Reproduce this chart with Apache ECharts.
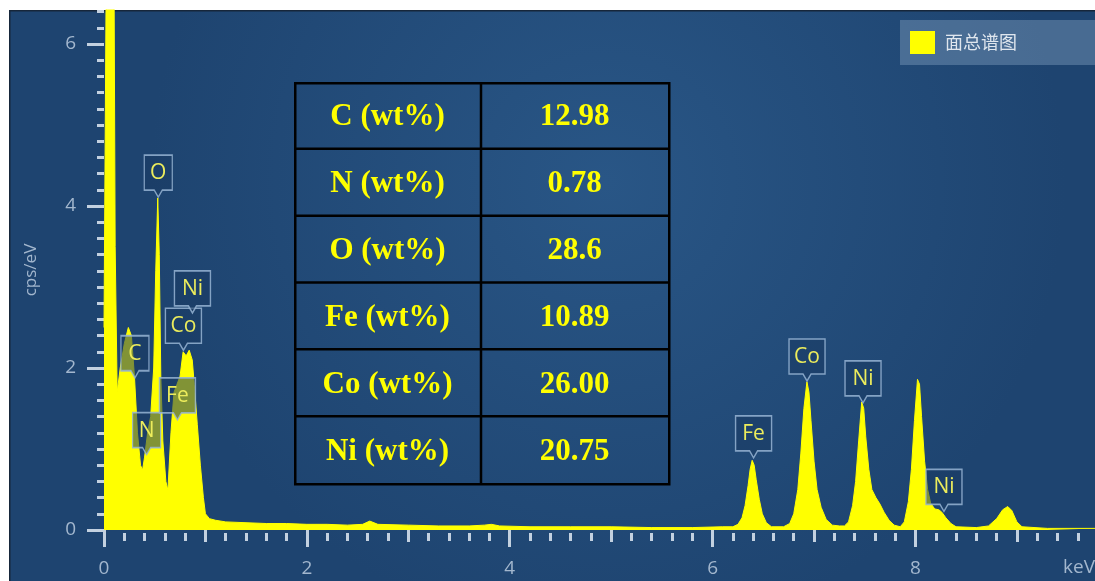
<!DOCTYPE html>
<html>
<head>
<meta charset="utf-8">
<title>面总谱图</title>
<script src="https://cdn.jsdelivr.net/npm/echarts@6/dist/echarts.min.js"></script>
<style>
    html, body { margin: 0; padding: 0; background: #fff; }
    #chart { width: 1095px; height: 581px; }
</style>
</head>
<body>
<div id="chart"></div>
<script>
// spectrum: energy (keV) and counts (cps/eV)
var energy = [0.00, 0.02, 0.05, 0.08, 0.10, 0.11, 0.13, 0.16, 0.20, 0.24, 0.27, 0.30, 0.33, 0.36, 0.38, 0.40,
    0.43, 0.46, 0.49, 0.51, 0.53, 0.545, 0.56, 0.58, 0.61, 0.63, 0.66, 0.69, 0.72, 0.75, 0.78, 0.81, 0.84,
    0.87, 0.89, 0.92, 0.95, 0.98, 1.00, 1.04, 1.10, 1.20, 1.40, 1.60, 1.80, 2.00, 2.20, 2.40, 2.55, 2.62,
    2.70, 3.00, 3.30, 3.60, 3.75, 3.82, 3.90, 4.20, 4.60, 5.00, 5.40, 5.80, 6.10, 6.20, 6.25, 6.29, 6.32,
    6.35, 6.37, 6.39, 6.41, 6.43, 6.46, 6.49, 6.53, 6.58, 6.70, 6.76, 6.80, 6.84, 6.87, 6.90, 6.93, 6.95,
    6.97, 7.00, 7.03, 7.07, 7.12, 7.18, 7.25, 7.30, 7.34, 7.38, 7.41, 7.44, 7.47, 7.49, 7.51, 7.54, 7.57,
    7.61, 7.65, 7.69, 7.74, 7.79, 7.85, 7.89, 7.93, 7.96, 7.99, 8.02, 8.04, 8.06, 8.09, 8.12, 8.15, 8.19,
    8.23, 8.26, 8.30, 8.35, 8.40, 8.60, 8.72, 8.80, 8.86, 8.91, 8.95, 9.00, 9.05, 9.30, 9.77];
var counts = [2.5, 6.5, 8.5, 9.0, 6.5, 3.5, 1.7, 2.0, 2.3, 2.5, 2.4, 1.9, 1.2, 0.8, 0.74, 0.9,
    1.2, 1.4, 2.0, 3.2, 4.1, 3.4, 1.9, 1.1, 0.6, 0.49, 1.2, 1.7, 1.8, 1.9, 2.2, 2.15, 2.22,
    2.1, 1.8, 1.3, 0.8, 0.4, 0.2, 0.14, 0.12, 0.10, 0.09, 0.08, 0.08, 0.07, 0.07, 0.06, 0.07, 0.11,
    0.07, 0.06, 0.05, 0.05, 0.06, 0.07, 0.05, 0.04, 0.04, 0.04, 0.03, 0.03, 0.04, 0.04, 0.07, 0.15, 0.30,
    0.55, 0.75, 0.86, 0.80, 0.62, 0.38, 0.20, 0.09, 0.04, 0.04, 0.08, 0.20, 0.50, 0.95, 1.50, 1.83, 1.70,
    1.35, 0.85, 0.50, 0.28, 0.13, 0.06, 0.05, 0.05, 0.10, 0.30, 0.60, 1.10, 1.58, 1.50, 1.15, 0.75, 0.50,
    0.40, 0.32, 0.22, 0.12, 0.06, 0.04, 0.10, 0.35, 0.75, 1.35, 1.86, 1.80, 1.40, 0.85, 0.50, 0.33, 0.26,
    0.25, 0.22, 0.15, 0.08, 0.04, 0.03, 0.05, 0.14, 0.25, 0.29, 0.24, 0.10, 0.04, 0.02, 0.02];

// peak labels, placed where the pointer tip sits
var peakNames = ['C', 'N', 'O', 'Fe', 'Co', 'Ni', 'Fe', 'Co', 'Ni', 'Ni'];
var peakKeV = [0.305, 0.42, 0.535, 0.724, 0.783, 0.872, 6.404, 6.931, 7.483, 8.281];
var peakCps = [1.88, 0.93, 4.11, 1.36, 2.22, 2.68, 0.89, 1.84, 1.57, 0.23];

// composition table
var tableElements = ['C', 'N', 'O', 'Fe', 'Co', 'Ni'];
var tableWt = ['12.98', '0.78', '28.6', '10.89', '26.00', '20.75'];

var xLabels = [0, 2, 4, 6, 8];
var xMidTicks = [1, 3, 5, 7, 9];
var yLabels = [0, 2, 4, 6];

var xMax = 9.77, yMax = 6.42;
var axisColor = '#a3b7ce';
var tickColor = '#c3d1e0';

var xMinor = [], yMinor = [];
for (var i = 0; i <= 48; i++) xMinor.push(+(i * 0.2).toFixed(1));
for (var j = 0; j <= 32; j++) yMinor.push(+(j * 0.2).toFixed(1));

var spectrum = energy.map(function (e, k) { return [e, counts[k]]; });

var labelData = peakNames.map(function (n, k) {
    var w = n.length > 1 ? 36 : 28;
    var m = w / 2;
    return {
        name: n,
        value: [peakKeV[k], peakCps[k]],
        symbol: 'path://M0,0H' + w + 'V35H' + (m + 4) + 'L' + m + ',42L' + (m - 4) + ',35H0Z',
        symbolSize: [w, 42]
    };
});

// table drawn on top of the plot
var table = [{
    type: 'rect', left: 294, top: 82, z: 10,
    shape: { width: 374, height: 401 },
    style: { fill: 'transparent', stroke: '#000', lineWidth: 2.5 }
}, {
    type: 'line', z: 10,
    shape: { x1: 481, y1: 82, x2: 481, y2: 483 },
    style: { stroke: '#000', lineWidth: 2.5 }
}];
var rowH = 401 / tableElements.length;
tableElements.forEach(function (el, r) {
    var cy = 82 + rowH * (r + 0.5);
    if (r > 0) {
        table.push({
            type: 'line', z: 10,
            shape: { x1: 294, y1: 82 + rowH * r, x2: 668, y2: 82 + rowH * r },
            style: { stroke: '#000', lineWidth: 2.5 }
        });
    }
    [[387.5, el + ' (wt%)'], [574.5, tableWt[r]]].forEach(function (c) {
        table.push({
            type: 'text', x: c[0], y: cy + 2, z: 11,
            style: {
                text: c[1], fill: '#ffff00', align: 'center', verticalAlign: 'middle',
                font: 'bold 31px "Liberation Serif", "Times New Roman", serif'
            }
        });
    });
});

function tickAxis(values, len, extra) {
    var a = {
        type: 'value', min: 0,
        axisLine: { show: false },
        splitLine: { show: false },
        axisTick: { show: true, length: len, customValues: values, lineStyle: { color: tickColor, width: 3 } },
        axisLabel: { show: false }
    };
    for (var key in extra) a[key] = extra[key];
    return a;
}

var chart = echarts.init(document.getElementById('chart'));

var option = {
    animation: false,
    backgroundColor: '#ffffff',
    graphic: [{
        type: 'rect', left: 9, top: 10, z: -10,
        shape: { width: 1086, height: 571 },
        style: {
            fill: new echarts.graphic.RadialGradient(0.55, 0.3, 0.8, [
                { offset: 0, color: '#295686' },
                { offset: 1, color: '#1e4470' }
            ]),
            stroke: '#16263a', lineWidth: 1.5
        }
    }, {
        type: 'text', left: 1063, top: 558, z: 5,
        style: { text: 'keV', fill: axisColor, font: '19px "Open Sans", sans-serif' }
    }].concat(table),
    legend: {
        data: ['面总谱图'],
        left: 900, top: 20,
        icon: 'rect', itemWidth: 25, itemHeight: 23,
        padding: [11, 80, 11, 10],
        backgroundColor: 'rgba(125,155,188,0.45)',
        textStyle: {
            color: '#dfe6ee', fontSize: 18, padding: [0, 0, 0, 5],
            fontFamily: '"Noto Sans CJK SC", sans-serif'
        }
    },
    grid: { left: 104, right: 0, top: 10, bottom: 51 },
    xAxis: [
        tickAxis(xLabels, 17, {
            max: xMax, position: 'bottom', offset: 3,
            axisLabel: {
                show: true, customValues: xLabels, margin: 26,
                color: axisColor, fontSize: 19, fontFamily: '"Open Sans", sans-serif'
            }
        }),
        tickAxis(xMidTicks, 12, { max: xMax, position: 'bottom', offset: 3 }),
        tickAxis(xMinor, 8, { max: xMax, position: 'bottom', offset: 3 })
    ],
    yAxis: [
        tickAxis(yLabels, 17, {
            max: yMax, position: 'left', offset: 4,
            name: 'cps/eV', nameLocation: 'middle', nameGap: 60, nameRotate: 90,
            nameTextStyle: { color: axisColor, fontSize: 17, fontFamily: '"Open Sans", sans-serif' },
            axisLabel: {
                show: true, customValues: yLabels, margin: 24,
                color: axisColor, fontSize: 19, fontFamily: '"Open Sans", sans-serif'
            }
        }),
        tickAxis(yMinor, 7, { max: yMax, position: 'left', offset: 4 })
    ],
    series: [{
        name: '面总谱图',
        type: 'line',
        color: '#ffff00',
        showSymbol: false,
        silent: true,
        z: 2,
        data: spectrum,
        lineStyle: { color: '#ffff00', width: 1 },
        areaStyle: { color: '#ffff00', opacity: 1 }
    }, {
        name: 'peaks',
        type: 'scatter',
        silent: true,
        z: 6,
        symbolOffset: [0, '-50%'],
        data: labelData,
        itemStyle: { color: 'rgba(26,58,98,0.55)', borderColor: 'rgba(150,180,212,0.85)', borderWidth: 1.5, opacity: 1 },
        label: {
            show: true, position: 'inside', offset: [0, -3],
            formatter: '{b}', color: '#ecec5c', fontSize: 21, fontFamily: '"Open Sans", sans-serif'
        }
    }]
};

chart.setOption(option);
</script>
</body>
</html>
